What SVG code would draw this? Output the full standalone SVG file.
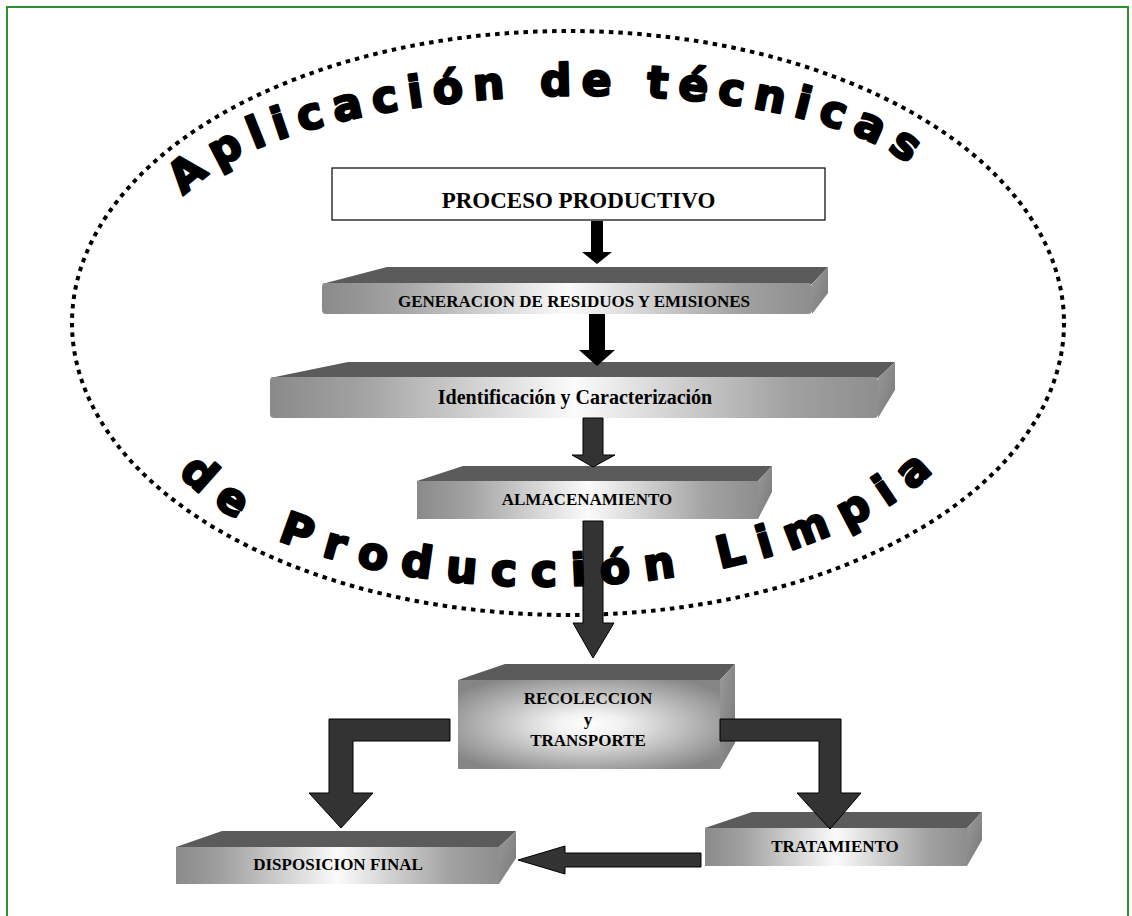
<svg xmlns="http://www.w3.org/2000/svg" width="1132" height="916" viewBox="0 0 1132 916">
<style>
.lbl{font-family:"Liberation Serif","Times New Roman",serif;font-weight:bold;fill:#000;text-anchor:middle}
.arc{font-family:"DejaVu Sans","Liberation Sans",sans-serif;font-weight:bold;font-size:44px;fill:#000;stroke:#000;stroke-width:2.4;stroke-linejoin:round}
.top{fill:#5b5b5b}
.side{fill:url(#gSide)}
.front{fill:url(#gFront)}
.blk{fill:#000}
.dk{fill:#333;stroke:#000;stroke-width:1}
</style>
<defs>
<linearGradient id="gFront" x1="0" y1="0" x2="1" y2="0">
<stop offset="0" stop-color="#8a8a8a"/>
<stop offset="0.15" stop-color="#a2a2a2"/>
<stop offset="0.5" stop-color="#fbfbfb"/>
<stop offset="0.85" stop-color="#a2a2a2"/>
<stop offset="1" stop-color="#8e8e8e"/>
</linearGradient>
<radialGradient id="gRad" cx="0.5" cy="0.5" r="0.62">
<stop offset="0" stop-color="#ffffff"/>
<stop offset="0.2" stop-color="#f2f2f2"/>
<stop offset="1" stop-color="#858585"/>
</radialGradient>
<linearGradient id="gSide" x1="0" y1="0" x2="1" y2="1">
<stop offset="0" stop-color="#9a9a9a"/>
<stop offset="1" stop-color="#777777"/>
</linearGradient>
<path id="pTop" d="M182 200 C280 72 822 57 925 180"/>
<path id="pBot" d="M176 470 C315 633 808 621 948 456"/>
</defs>
<rect width="1132" height="916" fill="#fff"/>
<rect id="frame" x="7" y="7" width="1121" height="930" fill="none" stroke="#2d8f2d" stroke-width="2"/>
<ellipse id="boundary" cx="568" cy="323" rx="496" ry="292" fill="none" stroke="#000" stroke-width="4" stroke-dasharray="4.5 5"/>

<g id="n-proceso">
<rect x="332" y="168" width="493" height="52" fill="#fff" stroke="#000" stroke-width="1.2"/>
<text class="lbl" x="578.5" y="208" font-size="23">PROCESO PRODUCTIVO</text>
</g>
<g id="n-generacion">
<polygon class="top" points="322,284 387,267 828,267 812,284"/>
<polygon class="side" points="812,284 828,267 828,293 812,314"/>
<rect class="front" x="322" y="283" width="490" height="31" rx="4"/>
<text class="lbl" x="574" y="307" font-size="17">GENERACION DE RESIDUOS Y EMISIONES</text>
</g>
<g id="n-identificacion">
<polygon class="top" points="270,378 348,362 895,362 878,378"/>
<polygon class="side" points="878,378 895,362 895,390 878,418"/>
<rect class="front" x="270" y="377" width="608" height="41" rx="4"/>
<text class="lbl" x="575" y="404" font-size="20">Identificación y Caracterización</text>
</g>
<g id="n-almacenamiento">
<polygon class="top" points="417,481 463,466 772,466 758,481"/>
<polygon class="side" points="758,481 772,466 772,492 758,519"/>
<rect class="front" x="417" y="481" width="341" height="38"/>
<text class="lbl" x="587" y="505" font-size="17">ALMACENAMIENTO</text>
</g>
<g id="n-recoleccion">
<polygon class="top" points="458,680 505,664 735,664 720,680"/>
<polygon class="side" points="720,680 735,664 735,743 720,769"/>
<rect x="458" y="680" width="262" height="89" fill="url(#gRad)"/>
<text class="lbl" x="588" y="704" font-size="17">RECOLECCION</text>
<text class="lbl" x="588" y="725" font-size="17">y</text>
<text class="lbl" x="588" y="746" font-size="17">TRANSPORTE</text>
</g>
<g id="n-disposicion">
<polygon class="top" points="176,847 222,831 516,831 499,847"/>
<polygon class="side" points="499,847 516,831 516,858 499,884"/>
<rect class="front" x="176" y="847" width="323" height="37"/>
<text class="lbl" x="338" y="870" font-size="17">DISPOSICION FINAL</text>
</g>
<g id="n-tratamiento">
<polygon class="top" points="705,828 752,812 982,812 967,828"/>
<polygon class="side" points="967,828 982,812 982,840 967,866"/>
<rect class="front" x="705" y="828" width="262" height="38"/>
<text class="lbl" x="835" y="852" font-size="17">TRATAMIENTO</text>
</g>

<g id="connectors">
<polygon class="blk" points="591,221 603,221 603,252 612,252 597,264 582,252 591,252"/>
<polygon class="blk" points="589,314 605,314 605,350 615,350 597,366 579,350 589,350"/>
<polygon class="dk" points="583,418 603,418 603,455 615,455 593,467 572,455 583,455"/>
<polygon class="dk" points="583,521 603,521 603,623 614,623 593,658 573,623 583,623"/>
<polygon class="dk" points="450,719 329,719 329,793 309,793 341,828 373,793 353,793 353,741 450,741"/>
<polygon class="dk" points="720,719 841,719 841,793 861,793 830,829 797,793 819,793 819,741 720,741"/>
<polygon class="dk" points="701,853 565,853 565,846 518,860 565,874 565,867 701,867"/>
</g>

<g id="arc-text">
<text class="arc" letter-spacing="9.8"><textPath href="#pTop" startOffset="4">Aplicación de técnicas</textPath></text>
<text class="arc" letter-spacing="14.4"><textPath href="#pBot" startOffset="4">de Producción Limpia</textPath></text>
</g>
</svg>
